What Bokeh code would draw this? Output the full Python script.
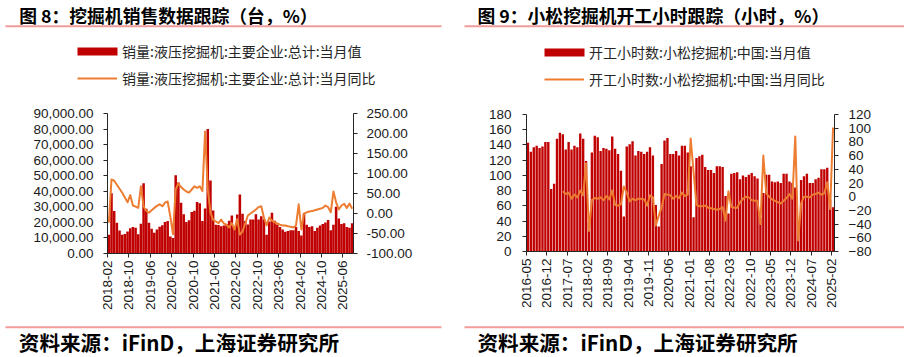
import math
from bokeh.plotting import figure
from bokeh.models import (Range1d, LinearAxis, FixedTicker, NumeralTickFormatter, Label,
                          BoxAnnotation, Legend, LegendItem, ColumnDataSource, Plot)
from bokeh.core.properties import value
from bokeh.layouts import row, column
from bokeh.embed import file_html
from bokeh.resources import INLINE

# ---------------- data: left chart (monthly, 2018-02 .. 2025-09) ----------------
LEFT_TICK_LABELS = ["2018-02", "2018-10", "2019-06", "2020-02", "2020-10", "2021-06",
                    "2022-02", "2022-10", "2023-06", "2024-02", "2024-10", "2025-06"]
SALES = [
    12000, 38700, 27300, 19800, 14800, 12000, 12500, 14200, 16300, 17000, 16600,
    12300, 19100, 45200, 28800, 19800, 15900, 13300, 15500, 17200, 18100, 20200, 20900,
    11000, 10000, 50300, 45600, 32700, 25200, 20200, 21300, 26700, 27500, 33100, 32300,
    20900, 29000, 80000, 47000, 27700, 18500, 18300, 17500, 18000, 19000, 21000, 24500,
    16300, 25000, 38000, 25600, 20900, 18700, 21900, 21900, 25200, 21900, 24000, 22000,
    12000, 20500, 26200, 21000, 18700, 17000, 15500, 14000, 14500, 15000, 15000, 17000,
    14500, 11500, 25800, 18500, 17000, 17500, 14500, 16500, 18000, 19000, 20000, 21500,
    15000, 18500, 30000, 22500, 19000, 19500, 17000, 16500, 19500,
]
SALES_YOY = [
    -23, 85, 82, 72, 62, 52, 40, 28, 46, 20, 17,
    14, 68, 17, 7, 2, 8, 14, 19, 23, 18, 27, 30,
    -8, -52, 60, 75, 66, 60, 55, 52, 60, 68, 64, 68,
    56, 205, 60, 3, -16, -20, -24, -15, -25, -28, -35, -24,
    -40, -14, -53, -45, -25, -5, 0, 5, 10, 16, 18, -10,
    -30, -10, -18, -22, -25, -28, -30, -30, -32, -33, -35, -30,
    23, -40, 0, 3, 5, 6, 8, 10, 12, 14, 20, 16,
    3, 55, 28, 10, 20, 24, 14, 25, 12,
]

# ---------------- data: right chart (monthly, 2016-05 .. 2025-02) ----------------
RIGHT_TICK_LABELS = ["2016-05", "2016-12", "2017-07", "2018-02", "2018-09", "2019-04",
                     "2019-11", "2020-06", "2021-01", "2021-08", "2022-03", "2022-10",
                     "2023-05", "2023-12", "2024-07", "2025-02"]
HOURS = [
    143, 131, 137, 139, 136, 138, 144, 144,
    82, 89, 148, 156, 154, 134, 144, 134, 139, 137, 155, 148,
    119, 38, 130, 152, 150, 132, 136, 135, 133, 151, 135, 128,
    106, 46, 138, 141, 145, 126, 132, 131, 128, 131, 137, 126,
    61, 33, 115, 146, 149, 128, 128, 132, 126, 139, 139, 130,
    112, 45, 123, 125, 127, 111, 107, 107, 103, 112, 112, 111,
    73, 50, 102, 103, 104, 95, 100, 98, 101, 103, 99, 96,
    44, 77, 101, 101, 92, 91, 92, 90, 102, 102, 92, 90,
    84, 28, 94, 99, 102, 90, 90, 95, 97, 108, 108, 110,
    68, 58,
]
HOURS_YOY = [None] * 12 + [
    8, 4, 6, -3, 3, -1, 9, 2,
    49, -50, -5, -2, -3, -1, -5, 1, -4, 9, -12, -13,
    -11, 15, 6, -7, -3, -5, -3, -3, -4, -13, 2, -1,
    -42, -28, -16, 4, 3, 2, -3, 1, -2, 6, 1, 3,
    85, 36, -12, -14, -14, -13, -16, -17, -18, -19, -18, -15,
    -35, 8, -15, -16, -16, -8, -3, 0, -1, -5, -6, -6,
    -40, 60, 5, 0, -4, -6, -8, -10, -6, -2, 4, -3,
    88, -64, -10, 0, 0, -1, 3, 4, 6, 3, 5, 21,
    -18, 101,
]

LEFT_TITLE = "图 8：挖掘机销售数据跟踪（台，%）"
RIGHT_TITLE = "图 9：小松挖掘机开工小时跟踪（小时，%）"
LEFT_BAR_NAME = "销量:液压挖掘机:主要企业:总计:当月值"
LEFT_LINE_NAME = "销量:液压挖掘机:主要企业:总计:当月同比"
RIGHT_BAR_NAME = "开工小时数:小松挖掘机:中国:当月值"
RIGHT_LINE_NAME = "开工小时数:小松挖掘机:中国:当月同比"
SOURCE = "资料来源：iFinD，上海证券研究所"

RED = "#C00000"
ORANGE = "#ED7D31"
RULE = "#F39A9A"
CJK = "Noto Sans CJK SC"
LATIN = "Liberation Sans"

W = 452
HEAD_H = 104
CHART_H = 214
FOOT_H = 39
HAS_FRAME_ALIGN = "frame_align" in Plot.properties()


def no_align(f):
    if HAS_FRAME_ALIGN:
        f.frame_align = False
    return f


def blank_fig(height, y_top, y_bottom):
    f = figure(width=W, height=height, output_backend="svg", toolbar_location=None,
               title=None, x_range=Range1d(0, W), y_range=Range1d(y_bottom, y_top),
               x_axis_location=None, y_axis_location=None,
               min_border=0, min_border_left=0, min_border_right=0,
               min_border_top=0, min_border_bottom=0)
    f.outline_line_color = None
    f.xgrid.visible = False
    f.ygrid.visible = False
    return no_align(f)


def header(title, title_x, rule_x0, rule_x1, bar_name, line_name, leg_x, ly_bar, ly_line):
    h = blank_fig(HEAD_H, 0, HEAD_H)
    h.add_layout(Label(x=title_x, y=14, text=title, text_font=CJK,
                       text_font_size="17.8px", text_font_style="bold",
                       text_color="#000000", text_baseline="middle", text_align="left"))
    h.add_layout(BoxAnnotation(left=rule_x0, right=rule_x1, top=24.8, bottom=26.8,
                               fill_color=RULE, fill_alpha=1, line_color=None))
    # legend keys: proxies kept outside the visible range
    kb = h.vbar(x=[-50], top=[0], width=1, fill_color=RED, line_color=None)
    kl = h.line(x=[-50, -40], y=[0, 0], line_color=ORANGE, line_width=2)
    common = dict(padding=0, margin=0, border_line_alpha=0, background_fill_alpha=0,
                  label_text_font=CJK, label_text_font_size="14px",
                  label_text_color="#262626", label_height=10, glyph_height=10)
    h.add_layout(Legend(items=[LegendItem(label=value(bar_name), renderers=[kb])],
                        location=(leg_x - 5, HEAD_H - ly_bar - 9), glyph_width=50,
                        label_standoff=0, **common))
    h.add_layout(Legend(items=[LegendItem(label=value(line_name), renderers=[kl])],
                        location=(leg_x, HEAD_H - ly_line - 9), glyph_width=40,
                        label_standoff=5, **common))
    return h


def footer(text_x, rule_x0, rule_x1):
    y0 = HEAD_H + CHART_H
    f = blank_fig(FOOT_H, y0, y0 + FOOT_H)
    f.add_layout(BoxAnnotation(left=rule_x0, right=rule_x1, top=325.7, bottom=327.7,
                               fill_color=RULE, fill_alpha=1, line_color=None))
    f.add_layout(Label(x=text_x, y=341, text=SOURCE, text_font=CJK,
                       text_font_size="20.6px", text_font_style="bold",
                       text_color="#000000", text_baseline="middle", text_align="left"))
    return f


def style_axis(ax, standoff):
    ax.axis_line_color = "#262626"
    ax.major_tick_line_color = "#262626"
    ax.minor_tick_line_color = None
    ax.major_tick_in = 0
    ax.major_tick_out = 4
    ax.major_label_text_font = LATIN
    ax.major_label_text_font_size = "13.5px"
    ax.major_label_text_color = "#1a1a1a"
    ax.major_label_standoff = standoff


# ---------------- left chart ----------------
n1 = len(SALES)
src1 = ColumnDataSource(dict(x=[i + 0.5 for i in range(n1)], v=SALES, y=SALES_YOY))
p1 = figure(width=W, height=CHART_H, output_backend="svg", toolbar_location=None,
            title=None, x_range=Range1d(0, n1), y_range=Range1d(0, 90000),
            min_border_left=107, min_border_right=W - 107 - 246, min_border_top=9,
            min_border_bottom=CHART_H - 9 - 140)
no_align(p1)
p1.outline_line_color = None
p1.xgrid.visible = False
p1.ygrid.visible = False
p1.extra_y_ranges = {"yoy": Range1d(-100, 250)}
p1.add_layout(LinearAxis(y_range_name="yoy"), "right")
p1.vbar(x="x", top="v", width=0.95, source=src1, fill_color=RED, line_color=None)
p1.line(x="x", y="y", source=src1, y_range_name="yoy", line_color=ORANGE,
        line_width=2, line_join="round")
step1 = 8
p1.xaxis.ticker = FixedTicker(ticks=[k * step1 for k in range(len(LEFT_TICK_LABELS))])
p1.xaxis.major_label_overrides = {k * step1: t for k, t in enumerate(LEFT_TICK_LABELS)}
p1.xaxis.major_label_orientation = math.pi / 2
p1.yaxis[0].ticker = FixedTicker(ticks=list(range(0, 90001, 10000)))
p1.yaxis[0].formatter = NumeralTickFormatter(format="0,0.00")
p1.yaxis[1].ticker = FixedTicker(ticks=list(range(-100, 251, 50)))
p1.yaxis[1].formatter = NumeralTickFormatter(format="0.00")
style_axis(p1.xaxis[0], 3)
style_axis(p1.yaxis[0], 10)
style_axis(p1.yaxis[1], 9)

# ---------------- right chart ----------------
n2 = len(HOURS)
src2 = ColumnDataSource(dict(x=[i + 0.5 for i in range(n2)], v=HOURS,
                             y=[float("nan") if v is None else v for v in HOURS_YOY]))
p2 = figure(width=W, height=CHART_H, output_backend="svg", toolbar_location=None,
            title=None, x_range=Range1d(0, n2), y_range=Range1d(0, 180),
            min_border_left=74, min_border_right=W - 74 - 308, min_border_top=10,
            min_border_bottom=CHART_H - 10 - 137)
no_align(p2)
p2.outline_line_color = None
p2.xgrid.visible = False
p2.ygrid.visible = False
p2.extra_y_ranges = {"yoy": Range1d(-80, 120)}
p2.add_layout(LinearAxis(y_range_name="yoy"), "right")
p2.vbar(x="x", top="v", width=0.82, source=src2, fill_color=RED, line_color=None)
p2.line(x="x", y="y", source=src2, y_range_name="yoy", line_color=ORANGE,
        line_width=2, line_join="round")
step2 = 7
p2.xaxis.ticker = FixedTicker(ticks=[k * step2 for k in range(len(RIGHT_TICK_LABELS))])
p2.xaxis.major_label_overrides = {k * step2: t for k, t in enumerate(RIGHT_TICK_LABELS)}
p2.xaxis.major_label_orientation = math.pi / 2
p2.yaxis[0].ticker = FixedTicker(ticks=list(range(0, 181, 20)))
p2.yaxis[1].ticker = FixedTicker(ticks=list(range(-80, 121, 20)))
style_axis(p2.xaxis[0], 3)
style_axis(p2.yaxis[0], 11)
style_axis(p2.yaxis[1], 10)

h1 = header(LEFT_TITLE, 18.7, 5, 441, LEFT_BAR_NAME, LEFT_LINE_NAME, 77, 52, 79.3)
h2 = header(RIGHT_TITLE, 25, 12, W, RIGHT_BAR_NAME, RIGHT_LINE_NAME, 92, 52.7, 80)
f1 = footer(18.3, 5, 441)
f2 = footer(25, 12, W)

layout = row(column(h1, p1, f1), column(h2, p2, f2))
open("out.html", "w").write(file_html(layout, INLINE))
